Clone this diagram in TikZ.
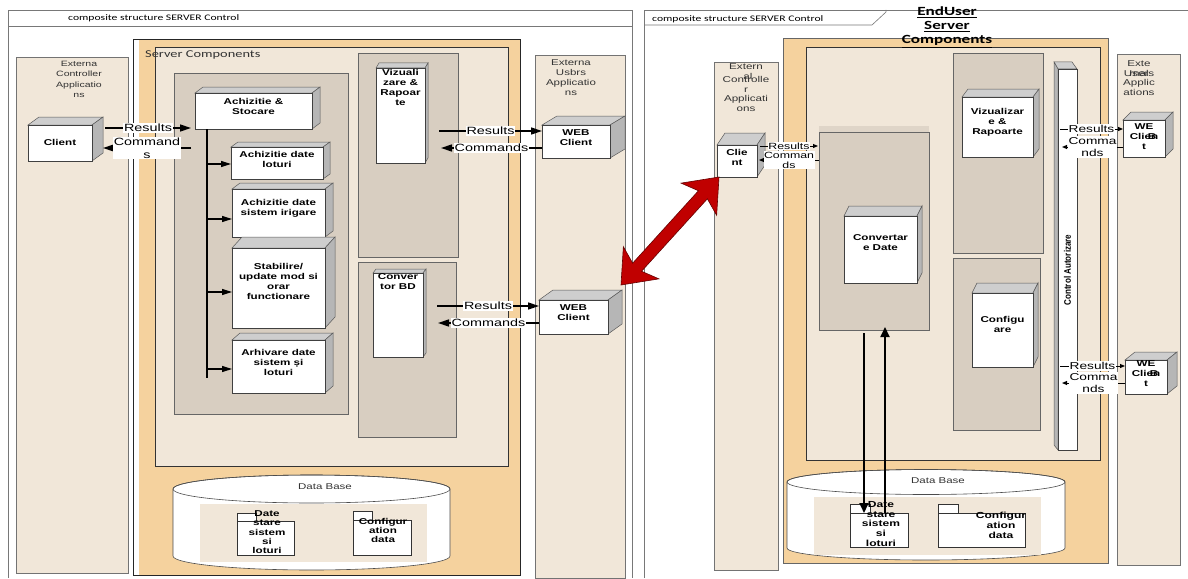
\documentclass[tikz,border=0pt]{standalone}
\usepackage{fontspec}
\setmainfont{Liberation Sans}[FakeStretch=1.37]
\newfontfamily\hdrfont{Carlito}[FakeStretch=1.37]
\newfontfamily\rotfont{Liberation Sans}[FakeStretch=0.85]
\usetikzlibrary{arrows.meta,calc}
\definecolor{beige}{RGB}{241,231,217}
\definecolor{orng}{RGB}{245,210,158}
\definecolor{panelgray}{RGB}{216,206,193}
\definecolor{cubetopc}{RGB}{206,206,206}
\definecolor{cubesidec}{RGB}{182,182,182}
\definecolor{redarrow}{RGB}{192,0,0}
\definecolor{framegray}{RGB}{120,120,120}
\tikzset{
 region/.style={rectangle, inner sep=0pt, outer sep=0pt, anchor=north west},
 extbox/.style={region, draw=black!55, fill=beige, line width=0.8pt},
 innerbox/.style={region, draw=black!80, fill=beige, line width=0.6pt},
 graybox/.style={region, draw=black!60, fill=panelgray, line width=0.8pt},
 face/.style={region, draw=black!75, fill=white, line width=0.6pt},
 frame/.style={draw=framegray, line width=0.6pt},
 ctext/.style={font=\fontsize{8.5}{10}\selectfont\bfseries, align=center, inner sep=0pt, anchor=north},
 stext/.style={font=\fontsize{7.7}{10.5}\selectfont, text=black!80, align=center, inner sep=0pt, anchor=north},
 mtext/.style={font=\fontsize{8.4}{9.7}\selectfont, text=black!80, align=center, inner sep=0pt, anchor=north},
 ptext/.style={font=\fontsize{8.5}{9.3}\selectfont\bfseries, align=center, inner sep=0pt, anchor=north},
 hdr/.style={font=\hdrfont\fontsize{8.5}{10}\selectfont, inner sep=0pt, anchor=west},
 lbl/.style={fill=white, inner sep=1pt, font=\fontsize{10.5}{12.5}\selectfont, align=center},
 lblr/.style={fill=white, inner sep=1pt, font=\fontsize{10}{12}\selectfont, align=center},
 lbls/.style={fill=white, inner sep=0.5pt, font=\fontsize{9}{10}\selectfont, align=center},
 arr/.style={line width=1.5pt, -{Triangle[length=11pt,width=7pt]}},
 brarr/.style={line width=1.2pt, -{Triangle[length=10pt,width=6pt]}},
 sarr/.style={line width=1pt, -{Triangle[length=5pt,width=4pt]}},
 varr/.style={line width=1.8pt, -{Triangle[length=10pt,width=9pt]}},
 pkgbox/.style={region, draw=black!80, fill=white, line width=0.6pt},
 dbbody/.style={draw=black!70, fill=white, line width=0.6pt},
}
% name x1 y1 x2 y2 dx dy pad text
\newcommand\cubebox[9]{%
 \filldraw[cubetopc, draw=black!65, line width=0.5pt] (#2,#3) -- (#2+#6,#3-#7) -- (#4+#6,#3-#7) -- (#4,#3) -- cycle;
 \filldraw[cubesidec, draw=black!65, line width=0.5pt] (#4,#3) -- (#4+#6,#3-#7) -- (#4+#6,#5-#7) -- (#4,#5) -- cycle;
 \node[face, minimum width=#4-#2, minimum height=#5-#3] (#1) at (#2,#3) {};
 \node[ctext] (#1-t) at ($(#1.north)+(0,#8)$) {#9};}
% name x1 ytab xtab ybody x2 y2
\newcommand\pkgshape[7]{%
 \draw[black!80, fill=white, line width=0.6pt] (#2,#3) rectangle (#4,#5);
 \node[pkgbox, minimum width=#6-#2, minimum height=#7-#5] (#1) at (#2,#5) {};}
\begin{document}
\begin{tikzpicture}[x=1pt,y=-1pt]
\useasboundingbox (0,0) rectangle (1188,578);
\fill[white] (0,0) rectangle (1188,578);

% ---------- left panel ----------
\draw[frame] (8,578) -- (8,10) -- (632,10) -- (632,578);
\draw[frame] (8,26) -- (632,26);
\node[hdr] (hdrL) at (68,18) {composite structure SERVER Control};

\node[extbox, minimum width=112, minimum height=516] (extCL) at (16,57) {};
\node[stext] (extCL-t) at (79,61) {Externa\\Controller\\Applicatio\\ns};

\node[region, fill=orng, minimum width=381, minimum height=535] (srvL) at (139,40) {};
\node[region, draw=black!85, line width=0.6pt, minimum width=387, minimum height=536] (srvLo) at (133,39) {};
\node[innerbox, minimum width=353, minimum height=419] (scL) at (155,47) {};
\node[font=\hdrfont\fontsize{10.5}{12}\selectfont, text=black!80, anchor=west, inner sep=0pt] (scL-t) at (145,55) {Server Components};

\node[graybox, minimum width=174, minimum height=341] (grpL) at (174,73) {};
\node[graybox, minimum width=100, minimum height=204] (vpL) at (358,53) {};
\node[graybox, minimum width=98, minimum height=175] (cpL) at (358,262) {};

\node[extbox, minimum width=90, minimum height=523] (extUL) at (535,55) {};
\node[mtext] (extUL-t) at (571,60) {Externa\\Usbrs\\Applicatio\\ns};

\cubebox{clientL}{28}{125}{92}{161}{11}{8}{14}{Client}
\cubebox{ach}{195}{93}{312}{129}{8}{6}{5.5}{Achizitie \&\\Stocare}
\cubebox{adl}{231}{147}{323}{179}{7}{5}{4}{Achizitie date\\loturi}
\cubebox{adsi}{232}{189}{325}{237}{8}{6}{10.5}{Achizitie date\\sistem irigare}
\cubebox{stab}{232}{248}{325}{328}{10}{11}{15}{Stabilire/\\update mod si\\orar\\functionare}
\cubebox{arh}{232}{340}{325}{393}{8}{7}{9}{Arhivare date\\sistem și\\loturi}
\cubebox{vizL}{376}{68}{425}{163}{3}{5}{1.5}{Vizuali\\zare \&\\Rapoar\\te}
\cubebox{convL}{373}{273}{423}{357}{3}{4}{0.5}{Conver\\tor BD}
\cubebox{webL1}{542}{125}{610}{158}{15}{9}{4}{WEB\\Client}
\cubebox{webL2}{539}{300}{608}{334}{14}{10}{4}{WEB\\Client}

% bus and branches
\coordinate (busT) at (207,129);
\coordinate (busB) at (207,378);
\draw[line width=1.2pt] (busT) -- (busB);
\coordinate (b1) at ([yshift=-1pt]adl.west);
\coordinate (b2) at ([yshift=-6pt]adsi.west);
\coordinate (b3) at ([yshift=-4pt]stab.west);
\coordinate (b4) at ([yshift=-2.5pt]arh.west);
\draw[brarr] (b1 -| busT) -- (b1);
\draw[brarr] (b2 -| busT) -- (b2);
\draw[brarr] (b3 -| busT) -- (b3);
\draw[brarr] (b4 -| busT) -- (b4);

% client <-> achizitie
\draw[arr] ([xshift=13pt,yshift=15pt]clientL.east) -- node[lbl]{Results} ([xshift=-4pt,yshift=-17pt]ach.west);
\draw[arr] ([xshift=-4pt,yshift=-37pt]ach.west) -- node[lbl]{Command\\s} ([xshift=11pt,yshift=-5pt]clientL.east);

% vizualizare <-> web
\draw[arr] ([xshift=14pt,yshift=-15.5pt]vizL.east) -- node[lbl]{Results} ([yshift=10.5pt]webL1.west);
\draw[arr] ([yshift=-6.5pt]webL1.west) -- node[lbl]{Commands} ([xshift=16pt,yshift=-32.5pt]vizL.east);
% convertor <-> web
\draw[arr] ([xshift=14pt,yshift=9pt]convL.east) -- node[lbl]{Results} ([yshift=11pt]webL2.west);
\draw[arr] ([yshift=-6pt]webL2.west) -- node[lbl]{Commands} ([xshift=15pt,yshift=-8pt]convL.east);

% data base left
\filldraw[dbbody] (173,489) -- (173,556) arc[start angle=180, end angle=360, x radius=138.5pt, y radius=14pt] -- (450,489) arc[start angle=0, end angle=180, x radius=138.5pt, y radius=14pt] -- cycle;
\draw[black!70, line width=0.6pt] (311.5,489) ellipse[x radius=138.5pt, y radius=14pt];
\node[font=\fontsize{8.4}{10}\selectfont, text=black!80, inner sep=0pt] (dbL) at (325,487) {Data Base};
\node[region, fill=beige, minimum width=227, minimum height=58] (dbLin) at (200,504) {};
\pkgshape{pk1L}{237}{513}{256}{521}{294}{555}
\pkgshape{pk2L}{353}{511}{372}{520}{411}{555}
\node[ptext] (pk1L-t) at (267,510.5) {Date\\stare\\sistem\\si\\loturi};
\node[ptext] (pk2L-t) at (383,518) {Configur\\ation\\data};

% ---------- right panel ----------
\draw[frame] (644,578) -- (644,10) -- (1188,10);
\draw[frame] (644,25) -- (872,25) -- (886,12) -- (886,10);
\node[hdr] (hdrR) at (652,19) {composite structure SERVER Control};

\node[extbox, minimum width=64, minimum height=508] (extCR) at (714,62) {};
\node[mtext, font=\fontsize{8.5}{9.7}\selectfont] (extCR-t1) at (746,63.5) {Extern};
\node[mtext, font=\fontsize{8.5}{9.7}\selectfont] (extCR-t2) at (746,76) {Controlle\\r\\Applicati\\ons};
\node[mtext, font=\fontsize{8.5}{9.7}\selectfont] (extCR-t3) at (748,73) {al};

\node[region, fill=orng, draw=black!60, line width=0.6pt, minimum width=325, minimum height=525] (srvR) at (783,38) {};
\node[innerbox, minimum width=294, minimum height=413] (scR) at (806,47) {};

\node[region, fill=panelgray!70!beige, minimum width=110, minimum height=8] (cpRband) at (819,126) {};
\node[graybox, minimum width=110, minimum height=198] (cpR) at (819,132) {};
\node[graybox, minimum width=90, minimum height=200] (vpR) at (953,53) {};
\node[graybox, minimum width=87, minimum height=172] (fpR) at (953,258) {};

\cubebox{clientR}{717}{145}{757}{177}{8}{12}{4}{Clie\\nt}
\cubebox{convR}{844}{216}{917}{283}{5}{10}{18}{Convertar\\e Date}
\cubebox{vizR}{962}{97}{1033}{157}{6}{8}{11}{Vizualizar\\e \&\\Rapoarte}
\cubebox{cfgR}{972}{293}{1033}{367}{5}{10}{23}{Configu\\are}

% control autorizare bar
\filldraw[cubetopc, draw=black!65, line width=0.5pt] (1054,62) -- (1072,62) -- (1077,69) -- (1058,69) -- cycle;
\filldraw[cubesidec, draw=black!65, line width=0.5pt] (1054,62) -- (1058,69) -- (1058,450) -- (1054,445) -- cycle;
\node[face, minimum width=19, minimum height=381] (ctrl) at (1058,69) {};
\node[rotate=90, font=\rotfont\fontsize{9.5}{10}\selectfont\bfseries, inner sep=0pt] (ctrl-t) at (1067.5,270) {Control Autorizare};

\node[extbox, minimum width=63, minimum height=511] (extUR) at (1117,54) {};
\node[mtext, font=\fontsize{8.5}{9.5}\selectfont] (extUR-t) at (1139,60.5) {Exte\\Users\\Applic\\ations};
\node[mtext, font=\fontsize{8.5}{9.5}\selectfont] (extUR-t2) at (1139,70) {rnal};

\cubebox{webR1}{1123}{120}{1165}{157}{8}{8}{3}{WE\\Clien\\t}
\node[ctext] (webR1-b) at (1152,133) {B};
\cubebox{webR2}{1125}{360}{1167}{394}{10}{8}{0}{WE\\Clien\\t}
\node[ctext] (webR2-b) at (1154,370) {B};

% client <-> convertare panel
\draw[sarr] ([xshift=3pt,yshift=15pt]clientR.east) -- node[lbls]{Results} ([xshift=-1pt,yshift=85pt]cpR.west);
\draw[sarr] ([yshift=71pt]cpR.west) -- node[lbls]{Comman\\ds} ([xshift=2pt,yshift=1pt]clientR.east);

% control <-> web clients
\draw[sarr] ([xshift=-17pt,yshift=130.5pt]ctrl.east) -- node[lblr]{Results} ([yshift=9.5pt]webR1.west);
\draw[sarr] ([yshift=-8.5pt]webR1.west) -- node[lblr]{Comma\\nds} ([xshift=-15pt,yshift=112.5pt]ctrl.east);
\draw[sarr] ([xshift=-17pt,yshift=-106.5pt]ctrl.east) -- node[lblr]{Results} ([yshift=11pt]webR2.west);
\draw[sarr] ([yshift=-6pt]webR2.west) -- node[lblr]{Comma\\nds} ([xshift=-15pt,yshift=-123.5pt]ctrl.east);

% data base right
\filldraw[dbbody] (787,482) -- (787,548) arc[start angle=180, end angle=360, x radius=139pt, y radius=12pt] -- (1065,482) arc[start angle=0, end angle=180, x radius=139pt, y radius=12.5pt] -- cycle;
\draw[black!70, line width=0.6pt] (926,482) ellipse[x radius=139pt, y radius=12.5pt];
\node[font=\fontsize{8.4}{10}\selectfont, text=black!80, inner sep=0pt] (dbR) at (938,481) {Data Base};
\node[region, fill=beige, minimum width=227, minimum height=58] (dbRin) at (814,497) {};
\pkgshape{pk1R}{850}{504}{870}{513}{908}{547}
\pkgshape{pk2R}{938}{504}{958}{513}{1025}{547}
\node[ptext, font=\fontsize{8.8}{9.8}\selectfont\bfseries] (pk1R-t) at (881,501) {Date\\stare\\sistem\\si\\loturi};
\node[ptext, font=\fontsize{8.8}{9.8}\selectfont\bfseries] (pk2R-t) at (1001,512) {Configur\\ation\\data};

% vertical arrows convertare <-> data
\draw[varr] ([xshift=-10pt,yshift=-3pt]cpR.south) -- ([xshift=-15pt]pk1R.north);
\draw[varr] ([xshift=6pt]pk1R.north) -- ([xshift=11pt,yshift=3pt]cpR.south);

% title
\node[font=\hdrfont\fontsize{12.5}{14}\selectfont\bfseries, align=center, anchor=north, inner sep=0pt] (euTitle) at (947,7) {\underline{EndUser}\\\underline{Server}\\\underline{Components}};

% red double arrow
\filldraw[fill=redarrow, draw=red!40!black, line width=0.6pt]
 (719,177) -- (716.65,215.33) -- (707.35,198.81) -- (641.55,271.25) -- (658.91,278.87)
 -- (621,285) -- (623.35,246.67) -- (632.65,263.19) -- (698.45,190.75) -- (681.09,183.13) -- cycle;
\end{tikzpicture}
\end{document}
